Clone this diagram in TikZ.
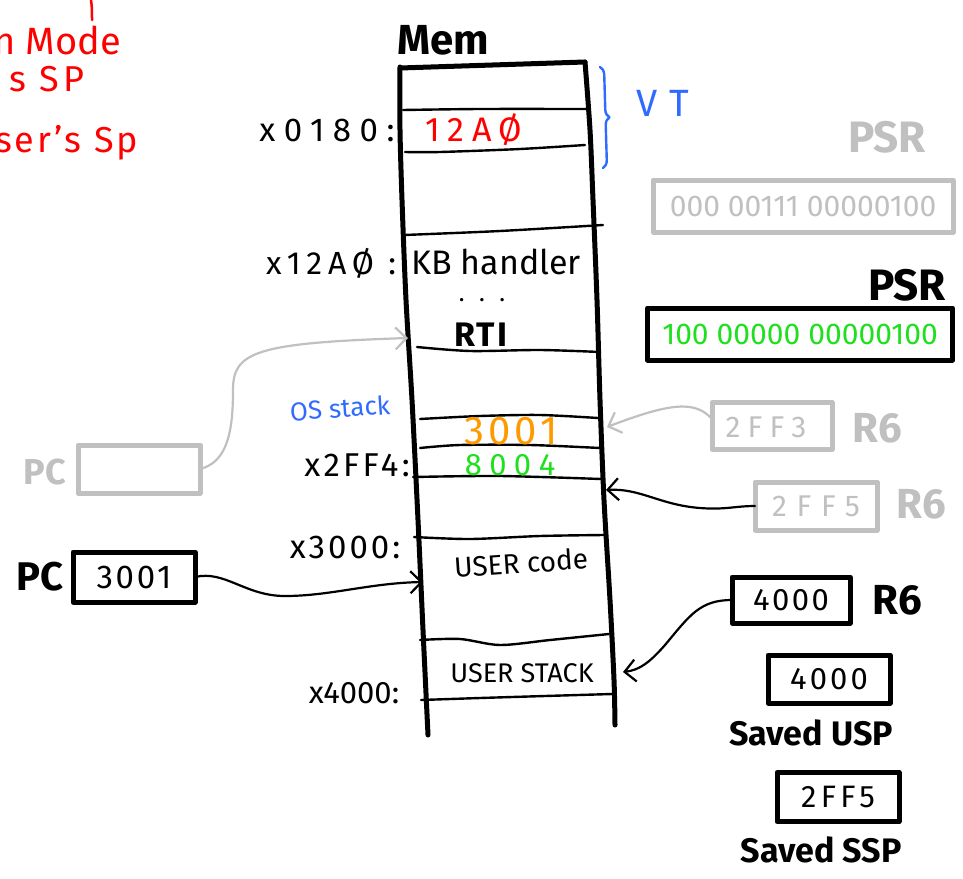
\documentclass[tikz,border=0pt]{standalone}
\usepackage{fontspec}
\newfontfamily\hand{Fira Sans}
\usetikzlibrary{arrows.meta,decorations.pathreplacing}
\definecolor{penred}{HTML}{FF0000}
\definecolor{penblue}{HTML}{2F6BFF}
\definecolor{penorange}{HTML}{FF9900}
\definecolor{pengreen}{HTML}{1EE01E}
\definecolor{pengray}{HTML}{C0C0C0}
% hand lettering: size, letter spacing
\newcommand\hw[2]{\hand\fontsize{#1}{#1}\selectfont\addfontfeature{LetterSpace=#2}}
\newcommand\hwb[2]{\hand\bfseries\fontsize{#1}{#1}\selectfont\addfontfeature{LetterSpace=#2}}

\begin{document}
\begin{tikzpicture}[x=1pt,y=-1pt,line cap=round,line join=round,
  lbl/.style={inner sep=0pt,outer sep=0pt},
  wall/.style={line width=5pt},
  divider/.style={line width=2.4pt},
  reg/.style={draw,line width=5pt,inner sep=0pt,outer sep=0pt},
  greyreg/.style={reg,draw=pengray,text=pengray},
  link/.style={line width=2.2pt,-{Straight Barb[length=11pt,width=22pt]}},
]
\useasboundingbox (0,0) rectangle (963,878);

% notes in the upper left corner
\begin{scope}
  \clip (0,0) rectangle (963,878);
  \draw[penred,line width=2.5pt] (91,0) .. controls (92,8) .. (92,20);
  \node[lbl,anchor=east,text=penred,font=\hw{38}{0}] (noteA) at (121,40) {n Mode};
  \node[lbl,anchor=east,text=penred,font=\hw{36}{10}] (noteB) at (84,79) {s SP};
  \node[lbl,anchor=east,text=penred,font=\hw{36}{8}] (noteC) at (138,143) {ser’s Sp};
\end{scope}

% memory column
\node[lbl,font=\hwb{42}{0}] (memtitle) at (443,40) {Mem};
\draw[wall] plot[smooth] coordinates {(400,67) (400,130) (402,200) (406,300) (412,400) (418,520) (423,630) (428,735)};
\draw[wall] plot[smooth] coordinates {(585,62) (590,130) (593,200) (597,300) (600,400) (604,500) (610,600) (614,680) (615,725)};
\draw[wall] (400,68) -- (585,62);

\draw[divider] plot[smooth] coordinates {(403,110) (480,109) (588,109)};
\draw[divider] plot[smooth] coordinates {(405,152) (440,152) (520,149) (585,145)};
\draw[divider] plot[smooth] coordinates {(404,235) (500,231) (603,225)};
\draw[divider] plot[smooth] coordinates {(417,347) (470,351) (540,350) (600,352)};
\draw[divider] plot[smooth] coordinates {(420,419) (480,416) (540,415) (598,418)};
\draw[divider] plot[smooth] coordinates {(420,448) (460,445) (530,445) (600,448)};
\draw[divider] plot[smooth] coordinates {(413,477) (500,476) (601,479)};
\draw[divider] plot[smooth] coordinates {(414,537) (470,539) (540,536) (604,535)};
\draw[divider] plot[smooth] coordinates {(420,640) (460,639) (500,645) (550,640) (609,634)};
\draw[divider] plot[smooth] coordinates {(421,700) (480,698) (545,696) (612,694)};

% vector table brace
\draw[penblue,line width=2.4pt,decorate,decoration={brace,amplitude=8pt}] (600,67) -- (603,168);
\node[lbl,text=penblue,font=\hw{38}{30}] (vt) at (663,103) {VT};

% addresses and contents
\node[lbl,font=\hw{33}{26}] (a0180) at (327,130) {x0180:};
\node[lbl,text=penred,font=\hw{34}{22}] (c0180) at (474,130) {12AØ};
\node[lbl,font=\hw{32}{18}] (a12a0) at (331,263) {x12AØ :};
\node[lbl,font=\hw{34}{0}] (kb) at (496,262) {KB handler};
\node[lbl,font=\hw{24}{60}] (dots) at (482,300) {...};
\node[lbl,font=\hwb{34}{5}] (rti) at (481,335) {RTI};
\node[lbl,text=penblue,font=\hw{26}{0},rotate=4] (osstack) at (340,408) {OS stack};
\node[lbl,text=penorange,font=\hw{40}{10}] (c2ff3) at (511,431) {3001};
\node[lbl,font=\hw{33}{10}] (a2ff4) at (357,465) {x2FF4:};
\node[lbl,text=pengreen,font=\hw{31}{24}] (c2ff4) at (510,465) {8004};
\node[lbl,font=\hw{33}{9}] (a3000) at (345,547) {x3000:};
\node[lbl,font=\hw{28}{0},rotate=4] (ucode) at (521,563) {USER code};
\node[lbl,font=\hw{27}{0}] (ustack) at (522,673) {USER STACK};
\node[lbl,font=\hw{31}{0}] (a4000) at (354,693) {x4000:};

% processor status registers
\node[lbl,text=pengray,font=\hwb{44}{0}] (psroldlbl) at (887,137) {PSR};
\node[greyreg,minimum width=300pt,minimum height=52pt,font=\hw{30}{0}] (psrold) at (803,206) {000 00111 00000100};
\node[lbl,font=\hwb{44}{0}] (psrnewlbl) at (907,285) {PSR};
\node[reg,minimum width=305pt,minimum height=52pt,text=pengreen,font=\hw{30}{0}] (psrnew) at (800,334) {100 00000 00000100};

% program counters
\node[lbl,text=pengray,font=\hwb{36}{0}] (pcoldlbl) at (45,472) {PC};
\node[greyreg,minimum width=122pt,minimum height=48pt] (pcold) at (139,469) {};
\node[lbl,font=\hwb{40}{0}] (pcnewlbl) at (40,577) {PC};
\node[reg,minimum width=122pt,minimum height=50pt,font=\hw{33}{8}] (pcnew) at (134,577) {3001};

% stack pointers
\node[greyreg,minimum width=120pt,minimum height=47pt] (r6old) at (772,426) {};
\node[lbl,text=pengray,font=\hw{30}{24}] (r6oldval) at (766,427) {2FF3};
\node[lbl,text=pengray,font=\hwb{42}{0}] (r6oldlbl) at (877,428) {R6};
\node[greyreg,minimum width=122pt,minimum height=48pt,font=\hw{30}{32}] (r6mid) at (816,506) {2FF5};
\node[lbl,text=pengray,font=\hwb{42}{0}] (r6midlbl) at (921,504) {R6};
\node[reg,minimum width=118pt,minimum height=46pt,font=\hw{31}{8}] (r6new) at (791,600) {4000};
\node[lbl,font=\hwb{42}{0}] (r6newlbl) at (897,600) {R6};
\node[reg,minimum width=122pt,minimum height=48pt,font=\hw{31}{10}] (usp) at (829,679) {4000};
\node[lbl,font=\hwb{34}{0}] (usplbl) at (811,733) {Saved USP};
\node[reg,minimum width=122pt,minimum height=49pt,font=\hw{31}{14}] (ssp) at (838,797) {2FF5};
\node[lbl,font=\hwb{34}{0}] (ssplbl) at (821,850) {Saved SSP};

% arrow targets on the memory column
\coordinate (rtiIn) at (408,338);
\coordinate (codeIn) at (423,582);
\coordinate (osTop) at (607,427);
\coordinate (osFree) at (606,490);
\coordinate (ustackIn) at (623,672);

\draw[link,pengray] (pcold.east) .. controls (228,462) and (233,430) .. (233,390)
  .. controls (233,352) and (255,343) .. (rtiIn);
\draw[link] (pcnew.east) .. controls (225,570) and (245,596) .. (285,596)
  .. controls (330,596) and (370,583) .. (codeIn);
\draw[link,pengray] ([yshift=7pt]r6old.west) .. controls (695,400) and (670,403) .. (osTop);
\draw[link] (r6mid.west) .. controls (735,506) and (725,510) .. (700,508)
  .. controls (660,505) and (640,488) .. (osFree);
\draw[link] (r6new.west) .. controls (700,600) and (690,615) .. (665,645)
  .. controls (650,662) and (640,670) .. (ustackIn);
\end{tikzpicture}
\end{document}
